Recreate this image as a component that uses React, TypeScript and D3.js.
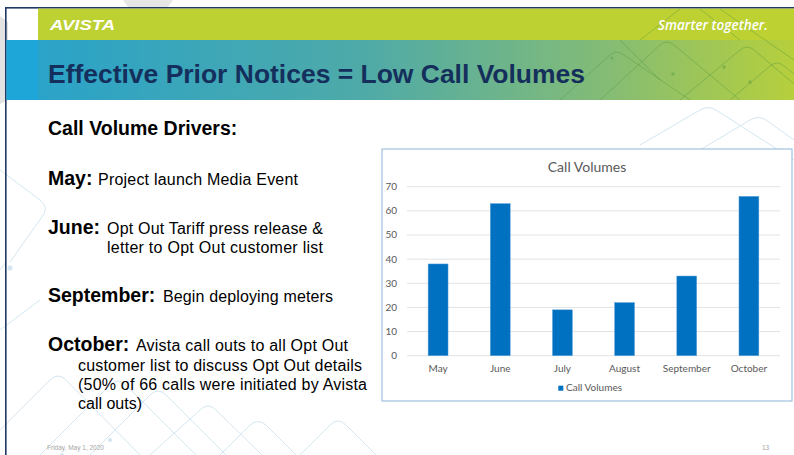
import React from "react";
import * as d3 from "d3";

const categories = ["May", "June", "July", "August", "September", "October"];
const callVolumes = [38, 63, 19, 22, 33, 66];
const yTicks = [0, 10, 20, 30, 40, 50, 60, 70];
const chartTitle = "Call Volumes";
const seriesName = "Call Volumes";

const W = 794;
const H = 455;

export default function App() {
  const x = d3.scaleBand<string>().domain(categories).range([407, 780]).padding(0);
  const y = d3.scaleLinear().domain([0, 70]).range([355.7, 186.7]);
  const barW = x.bandwidth() * 0.32;

  const body = "'Liberation Sans', Arial, sans-serif";
  const chartFont = "Lato, 'Open Sans', sans-serif";

  const decoBlue = "#d3e6f1";
  const decoGreen = "rgba(70,140,60,0.35)";

  return (
    <svg
      width={W}
      height={H}
      viewBox={`0 0 ${W} ${H}`}
      style={{ position: "absolute", left: 0, top: 0, background: "#fff" }}
    >
      <defs>
        <linearGradient id="titleGrad" x1="0" x2="1" y1="0" y2="0">
          <stop offset="0%" stopColor="#27a2cc" />
          <stop offset="45%" stopColor="#4eaaa8" />
          <stop offset="75%" stopColor="#82bb78" />
          <stop offset="100%" stopColor="#b6cf3c" />
        </linearGradient>
      </defs>

      {/* outside grey shapes */}
      <polygon points="0,16 8,22 8,100 0,104" fill="#e3e3e3" />
      <polygon points="123,0 173,0 168,7 128,7" fill="#e6e6e6" />

      {/* body deco lines */}
      <g fill="none" stroke={decoBlue} strokeWidth={1}>
        <path d="M0,170 L40,200 Q48,206 44,214 L10,262" />
        <path d="M6,262 L0,270" />
        <path d="M40,455 L110,385 Q118,377 126,385 L196,455" />
        <path d="M90,455 L150,395 Q158,387 166,395 L226,455" />
        <path d="M0,430 L50,380 Q58,372 66,380 L140,455" />
        <path d="M150,455 L200,410 Q208,402 216,410 L262,455" />
        <path d="M220,455 L250,425 Q258,418 266,425 L296,455" />
        <path d="M300,455 L330,425 Q338,417 346,425 L376,455" />
        <path d="M640,145 L700,110 Q708,105 716,110 L794,160" />
        <path d="M700,150 L750,120 Q758,115 766,120 L794,140" />
        <path d="M760,190 L790,170" />
        <path d="M0,330 L40,300" />
      </g>
      <g fill={decoBlue}>
        <circle cx={10} cy={268} r={2.5} />
        <circle cx={62} cy={455} r={2} />
        <circle cx={110} cy={440} r={2} />
        <circle cx={772} cy={193} r={2} />
      </g>

      {/* frame */}
      <rect x={5} y={7} width={789} height={1.6} fill="#1f3864" />
      <rect x={5} y={7} width={1.6} height={448} fill="#1f3864" />

      {/* header bands */}
      <rect x={38} y={8.6} width={756} height={31.4} fill="#bdd133" />
      <rect x={6.6} y={40} width={787.4} height={60} fill="url(#titleGrad)" />
      <rect x={6.6} y={40} width={31.4} height={60} fill="#1fa6d8" />

      {/* header deco */}
      <g fill="none" stroke={decoGreen} strokeWidth={1}>
        <path d="M560,100 L610,55 Q617,49 624,55 L690,100" />
        <path d="M600,100 L660,45 Q667,39 674,45 L740,100" />
        <path d="M640,40 L680,9 M700,9 L740,40" />
        <path d="M680,100 L740,50 Q747,44 754,50 L794,84" />
        <path d="M720,9 L794,60" />
        <path d="M730,100 L770,66 Q777,60 784,66 L794,74" />
        <path d="M620,40 Q640,60 660,80" />
      </g>
      <g fill={decoGreen}>
        <circle cx={673} cy={74} r={1.8} />
        <circle cx={724} cy={67} r={1.8} />
        <circle cx={750} cy={82} r={1.8} />
        <circle cx={612} cy={58} r={1.5} />
      </g>

      {/* logo + tagline */}
      <text
        x={50}
        y={30}
        fill="#fff"
        fontFamily={body}
        fontWeight="bold"
        fontStyle="italic"
        fontSize={14}
        textLength={65}
        lengthAdjust="spacingAndGlyphs"
      >
        AVISTA
      </text>
      <text
        x={658}
        y={30}
        fill="#fff"
        fontFamily="'Open Sans', sans-serif"
        fontStyle="italic"
        fontWeight={600}
        fontSize={13.5}
        textLength={110}
        lengthAdjust="spacingAndGlyphs"
      >
        Smarter together.
      </text>

      {/* title */}
      <text
        x={48}
        y={83}
        fill="#142f5c"
        fontFamily={body}
        fontWeight="bold"
        fontSize={26.4}
        textLength={537}
        lengthAdjust="spacingAndGlyphs"
      >
        Effective Prior Notices = Low Call Volumes
      </text>

      {/* body text */}
      <g fontFamily={body} fill="#000">
        <text x={48} y={135} fontWeight="bold" fontSize={19.5}>
          Call Volume Drivers:
        </text>

        <text x={48} y={185} fontWeight="bold" fontSize={19.5}>May:</text>
        <text x={98} y={185} fontSize={16} textLength={200} lengthAdjust="spacing">
          Project launch Media Event
        </text>

        <text x={48} y={234} fontWeight="bold" fontSize={19.5}>June:</text>
        <text x={107} y={234} fontSize={16} textLength={216} lengthAdjust="spacing">
          Opt Out Tariff press release &amp;
        </text>
        <text x={107} y={253} fontSize={16} textLength={216} lengthAdjust="spacing">
          letter to Opt Out customer list
        </text>

        <text x={48} y={301.5} fontWeight="bold" fontSize={19.5}>September:</text>
        <text x={163} y={301.5} fontSize={16} textLength={170} lengthAdjust="spacing">
          Begin deploying meters
        </text>

        <text x={48} y={350.5} fontWeight="bold" fontSize={19.5}>October:</text>
        <text x={136} y={350.5} fontSize={16} textLength={212} lengthAdjust="spacing">
          Avista call outs to all Opt Out
        </text>
        <text x={78} y={370.5} fontSize={16} textLength={284} lengthAdjust="spacing">
          customer list to discuss Opt Out details
        </text>
        <text x={78} y={390} fontSize={16} textLength={289} lengthAdjust="spacing">
          (50% of 66 calls were initiated by Avista
        </text>
        <text x={78} y={408.5} fontSize={16}>
          call outs)
        </text>
      </g>

      {/* chart */}
      <rect x={382} y={149} width={410} height={252} fill="#fff" stroke="#8fb4da" strokeWidth={1} />
      <text
        x={587}
        y={172}
        textAnchor="middle"
        fontFamily={chartFont}
        fontSize={14}
        fill="#595959"
      >
        {chartTitle}
      </text>

      <g>
        {yTicks.map((t) => (
          <g key={t}>
            <line x1={407} x2={780} y1={y(t)} y2={y(t)} stroke="#e3e3e3" strokeWidth={1} />
            <text
              x={397}
              y={y(t)}
              dy="0.35em"
              textAnchor="end"
              fontFamily={chartFont}
              fontSize={10}
              fill="#595959"
            >
              {t}
            </text>
          </g>
        ))}
      </g>

      <g>
        {categories.map((c, i) => {
          const cx = (x(c) as number) + x.bandwidth() / 2;
          return (
            <g key={c}>
              <rect
                x={cx - barW / 2}
                y={y(callVolumes[i])}
                width={barW}
                height={y(0) - y(callVolumes[i])}
                fill="#0070c0"
                stroke="#5fa3d8"
                strokeWidth={0.5}
              />
              <text
                x={cx}
                y={372}
                textAnchor="middle"
                fontFamily={chartFont}
                fontSize={10}
                fill="#595959"
              >
                {c}
              </text>
            </g>
          );
        })}
      </g>

      {/* legend */}
      <rect x={558.3} y={385.7} width={5} height={5} fill="#0070c0" />
      <text x={566} y={391} fontFamily={chartFont} fontSize={10} fill="#595959">
        {seriesName}
      </text>

      {/* footer */}
      <text x={47} y={450} fontFamily={body} fontSize={6.5} fill="#a6a6a6">
        Friday, May 1, 2020
      </text>
      <text x={762} y={450} fontFamily={body} fontSize={6.5} fill="#a6a6a6">
        13
      </text>
    </svg>
  );
}
